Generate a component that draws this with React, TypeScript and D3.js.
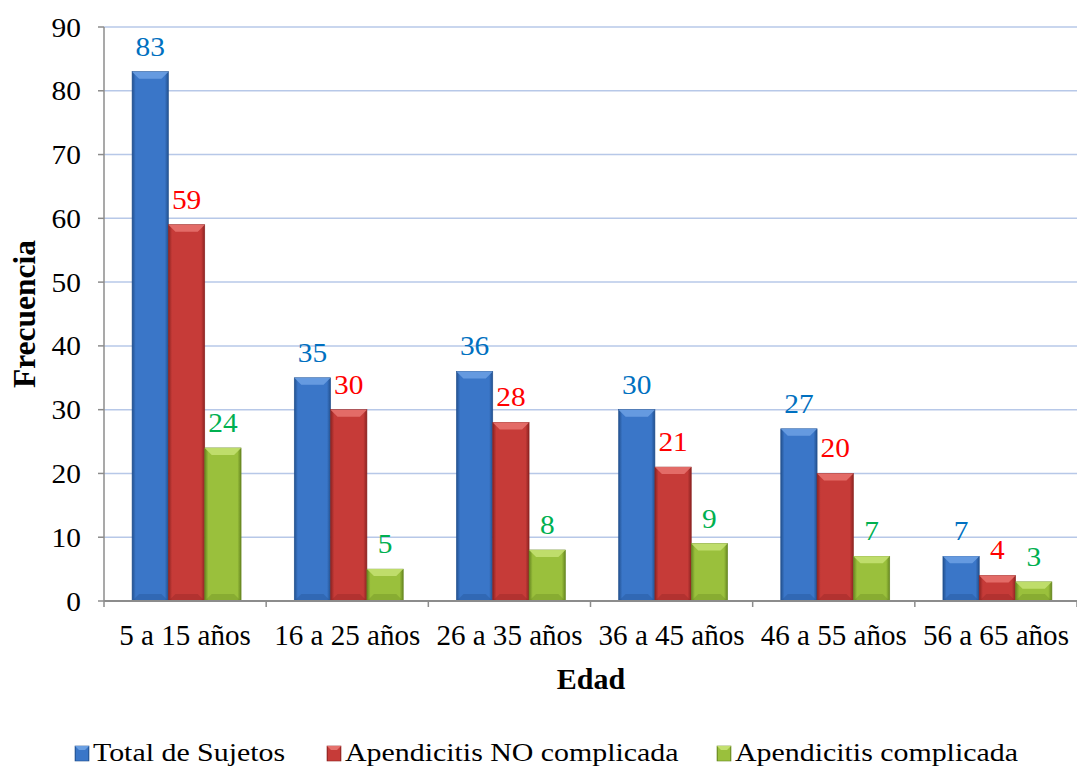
import React from "react";
import * as d3 from "d3";

const categories = ["5 a 15 años", "16 a 25 años", "26 a 35 años", "36 a 45 años", "46 a 55 años", "56 a 65 años"];
const totalSujetos = [83, 35, 36, 30, 27, 7];
const noComplicada = [59, 30, 28, 21, 20, 4];
const complicada = [24, 5, 8, 9, 7, 3];
const yTicks = [0, 10, 20, 30, 40, 50, 60, 70, 80, 90];

const series = [
  { key: "total", name: "Total de Sujetos", values: totalSujetos, base: "#3A76C8", light: "#6A9FE2", dark: "#22508E", label: "#0070C0" },
  { key: "nocomp", name: "Apendicitis NO complicada", values: noComplicada, base: "#C63B38", light: "#E5716D", dark: "#8C2321", label: "#FF0000" },
  { key: "comp", name: "Apendicitis complicada", values: complicada, base: "#9AC03C", light: "#C3E070", dark: "#668620", label: "#00B050" },
];
const legendX = [75, 327, 717];

const W = 1077;
const H = 767;
const left = 104;
const right = 1077;
const top = 27;
const bottom = 601;
const family = "'Liberation Serif', 'Times New Roman', Times, serif";

type LabelProps = {
  x: number;
  y: number;
  size: number;
  sx?: number;
  anchor?: "start" | "middle" | "end";
  fill?: string;
  bold?: boolean;
  rotate?: number;
  dy?: string;
  children: React.ReactNode;
};

// Serif text label, optionally widened horizontally
function Label({ x, y, size, sx = 1, anchor = "start", fill = "#000", bold = false, rotate = 0, dy, children }: LabelProps) {
  return (
    <g transform={`translate(${x},${y}) rotate(${rotate}) scale(${sx},1)`}>
      <text
        textAnchor={anchor}
        dy={dy}
        style={{ fontFamily: family }}
        fontSize={size}
        fontWeight={bold ? "bold" : "normal"}
        fill={fill}
      >
        {children}
      </text>
    </g>
  );
}

export default function App() {
  const x = d3.scaleBand<string>().domain(categories).range([left, right]);
  const y = d3.scaleLinear().domain([0, 90]).range([bottom, top]);
  const step = x.step();
  const bw = step * 0.224;
  const groupOffset = (step - bw * series.length) / 2 + 1.5;
  const inner = d3
    .scaleBand<string>()
    .domain(series.map((s) => s.key))
    .range([groupOffset, groupOffset + bw * series.length]);
  const bev = 7;

  return (
    <svg
      width={W}
      height={H}
      style={{ display: "block", position: "absolute", left: 0, top: 0, background: "#fff" }}
    >
      <defs>
        {series.map((s) => (
          <linearGradient key={s.key} id={`g-${s.key}`} x1="0" x2="1" y1="0" y2="0">
            <stop offset="0" stopColor={s.dark} />
            <stop offset="0.1" stopColor={s.base} />
            <stop offset="0.5" stopColor={s.base} />
            <stop offset="0.9" stopColor={s.base} />
            <stop offset="1" stopColor={s.dark} />
          </linearGradient>
        ))}
      </defs>

      {/* gridlines */}
      {yTicks.slice(1).map((t) => (
        <line key={t} x1={left} x2={right} y1={y(t)} y2={y(t)} stroke="#B7C8E8" strokeWidth={1.5} />
      ))}

      {/* y axis */}
      <line x1={left} x2={left} y1={top} y2={bottom} stroke="#8C8C8C" strokeWidth={1.5} />
      {yTicks.map((t) => (
        <g key={t}>
          <line x1={left - 6} x2={left} y1={y(t)} y2={y(t)} stroke="#8C8C8C" strokeWidth={1.5} />
          <Label x={81} y={y(t)} dy="0.34em" size={28} sx={1.05} anchor="end">
            {t}
          </Label>
        </g>
      ))}

      {/* bars */}
      {categories.map((c, i) => (
        <g key={c}>
          {series.map((s) => {
            const v = s.values[i];
            const x0 = (x(c) as number) + (inner(s.key) as number);
            const y0 = y(v);
            const h = bottom - y0;
            const b = Math.min(bev, h / 2);
            return (
              <g key={s.key}>
                <rect x={x0} y={y0} width={bw} height={h} fill={`url(#g-${s.key})`} stroke={s.dark} strokeWidth={0.6} />
                <path
                  d={`M${x0},${y0}L${x0 + bw},${y0}L${x0 + bw - b},${y0 + b}L${x0 + b},${y0 + b}Z`}
                  fill={s.light}
                  opacity={0.9}
                />
                <path
                  d={`M${x0},${bottom}L${x0 + bw},${bottom}L${x0 + bw - b},${bottom - b}L${x0 + b},${bottom - b}Z`}
                  fill={s.dark}
                  opacity={0.35}
                />
                <Label x={x0 + bw / 2} y={y0 - 16} size={28} sx={1.05} anchor="middle" fill={s.label}>
                  {v}
                </Label>
              </g>
            );
          })}
        </g>
      ))}

      {/* x axis */}
      <line x1={left} x2={right} y1={bottom} y2={bottom} stroke="#8C8C8C" strokeWidth={2} />
      {d3.range(categories.length + 1).map((k) => {
        const xx = left + k * step;
        return <line key={k} x1={xx} x2={xx} y1={bottom} y2={bottom + 6} stroke="#8C8C8C" strokeWidth={1.5} />;
      })}
      {categories.map((c) => (
        <Label key={c} x={(x(c) as number) + step / 2} y={645} size={28.5} sx={1.02} anchor="middle">
          {c}
        </Label>
      ))}

      {/* axis titles */}
      <Label x={591} y={689} size={30} bold anchor="middle">
        Edad
      </Label>
      <Label x={35} y={314} size={31.5} bold anchor="middle" rotate={-90}>
        Frecuencia
      </Label>

      {/* legend */}
      {series.map((s, i) => {
        const lx = legendX[i];
        return (
          <g key={s.key}>
            <rect x={lx} y={746} width={14} height={15} fill={`url(#g-${s.key})`} stroke={s.dark} strokeWidth={0.6} />
            <path d={`M${lx},746L${lx + 14},746L${lx + 10},750L${lx + 4},750Z`} fill={s.light} />
            <Label x={lx + 18} y={761} size={26} sx={1.15}>
              {s.name}
            </Label>
          </g>
        );
      })}
    </svg>
  );
}
